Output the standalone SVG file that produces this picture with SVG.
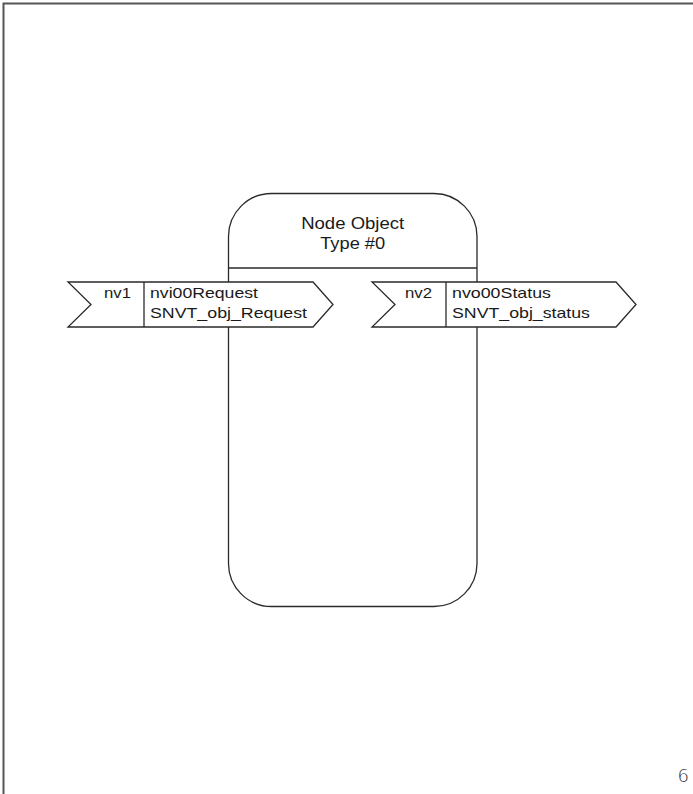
<svg xmlns="http://www.w3.org/2000/svg" width="693" height="794" viewBox="0 0 693 794">
<style>
.ln{fill:none;stroke:#2a2a2a;stroke-width:1.3}
.sh{fill:#fff;stroke:#2a2a2a;stroke-width:1.3;stroke-linejoin:miter}
.t{font-family:"Liberation Sans",Arial,sans-serif;font-size:15px;fill:#1a1a1a}
.tt{font-family:"Liberation Sans",Arial,sans-serif;font-size:16px;fill:#1a1a1a;text-anchor:middle}
</style>
<rect width="693" height="794" fill="#fff"/>
<g id="frame">
<path d="M3.5,794 V3.5 H693" fill="none" stroke="#555" stroke-width="2"/>
</g>
<g id="node-object">
<rect x="228.5" y="193.5" width="248.5" height="413" rx="43" ry="43" class="ln"/>
<line x1="228.5" y1="268" x2="477" y2="268" class="ln"/>
<text class="tt" x="352.7" y="229" textLength="103" lengthAdjust="spacingAndGlyphs">Node Object</text>
<text class="tt" x="352.7" y="249" textLength="65" lengthAdjust="spacingAndGlyphs">Type #0</text>
</g>
<g id="nv1">
<path d="M68,282 H313 L333,304.5 L313,327 H68 L91,304.5 Z" class="sh"/>
<line x1="144" y1="282" x2="144" y2="327" class="ln"/>
<text class="t" x="104" y="298" textLength="27" lengthAdjust="spacingAndGlyphs">nv1</text>
<text class="t" x="150" y="298" textLength="108" lengthAdjust="spacingAndGlyphs">nvi00Request</text>
<text class="t" x="150" y="318" textLength="157" lengthAdjust="spacingAndGlyphs">SNVT_obj_Request</text>
</g>
<g id="nv2">
<path d="M372,282 H616 L636,304.5 L616,327 H372 L395,304.5 Z" class="sh"/>
<line x1="446" y1="282" x2="446" y2="327" class="ln"/>
<text class="t" x="405" y="298" textLength="27" lengthAdjust="spacingAndGlyphs">nv2</text>
<text class="t" x="452" y="298" textLength="99" lengthAdjust="spacingAndGlyphs">nvo00Status</text>
<text class="t" x="452" y="318" textLength="138" lengthAdjust="spacingAndGlyphs">SNVT_obj_status</text>
</g>
<g id="connectors"></g>
<text x="689" y="782" text-anchor="end" style="font-family:'DejaVu Sans',sans-serif;font-size:18px;font-weight:300;fill:#333">6</text>
</svg>
